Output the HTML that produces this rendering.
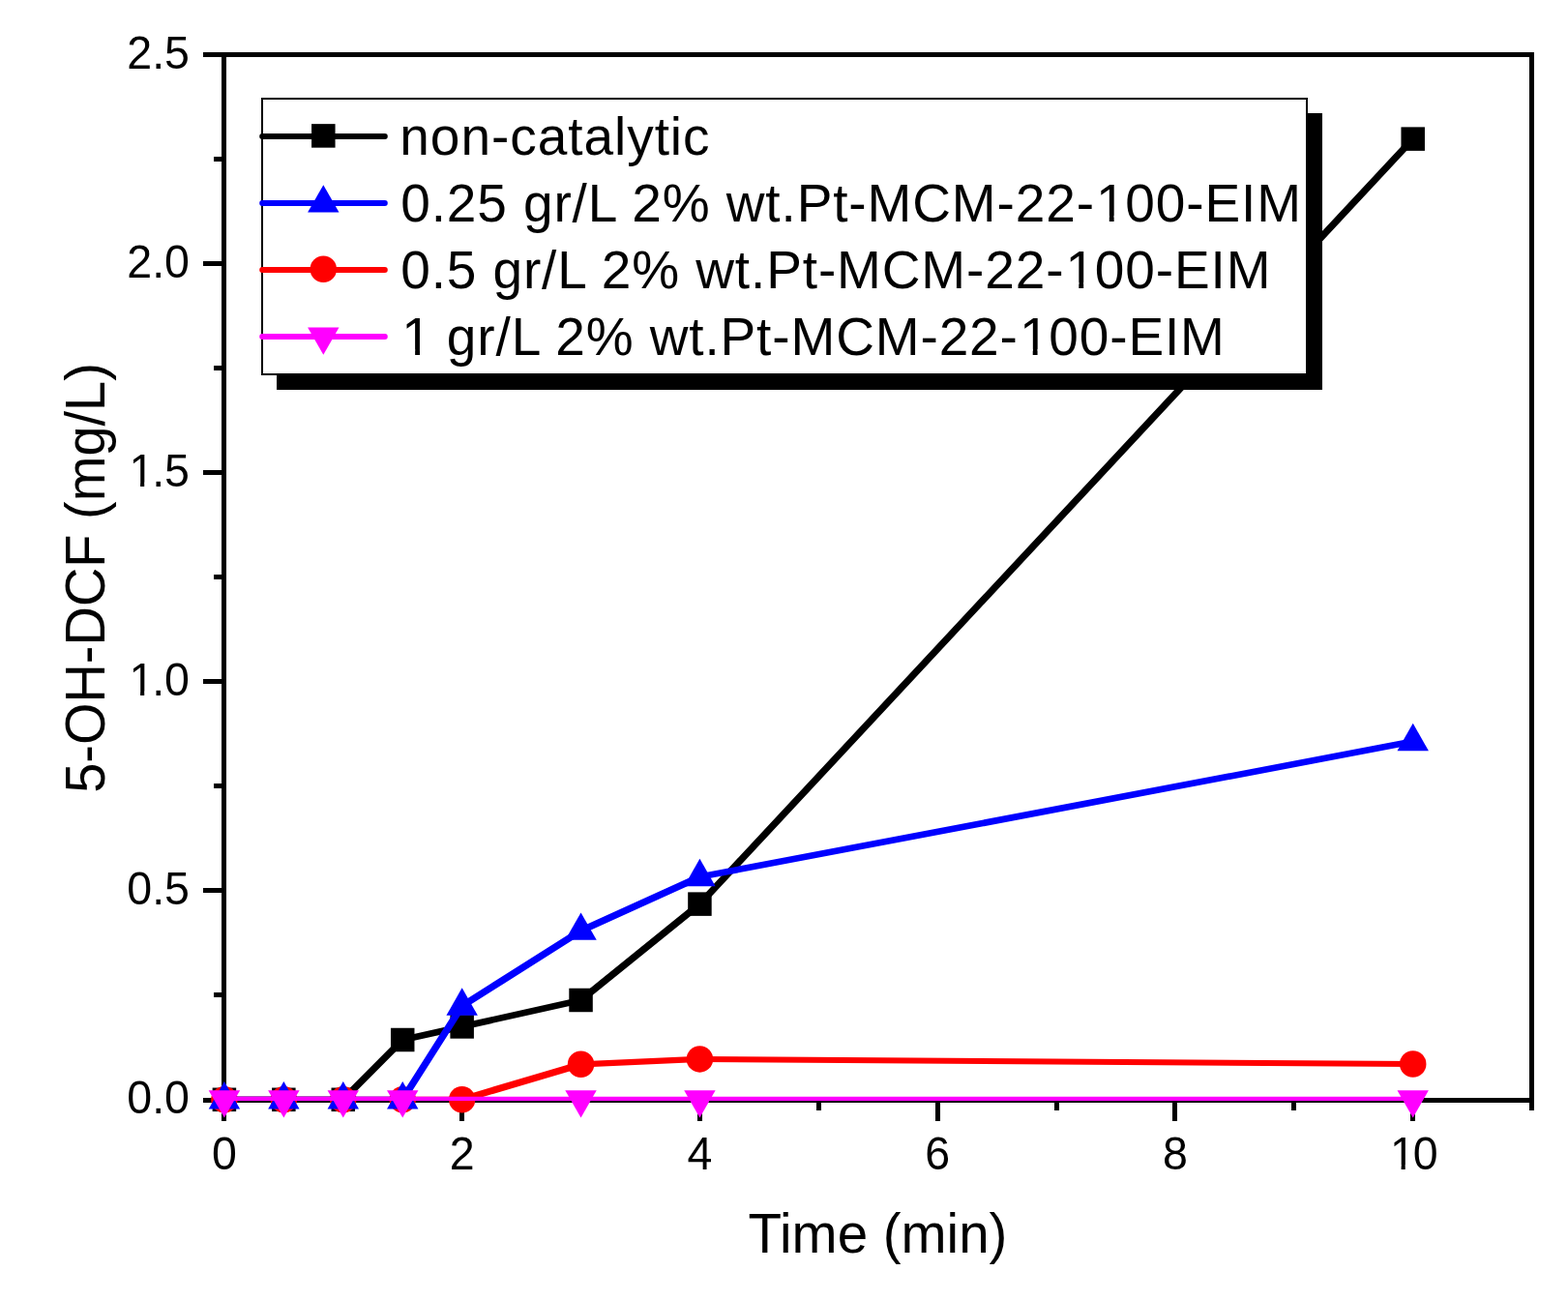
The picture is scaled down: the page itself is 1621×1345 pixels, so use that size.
<!DOCTYPE html><html><head><meta charset="utf-8"><title>5-OH-DCF vs Time</title><style>html,body{margin:0;padding:0;background:#fff;overflow:hidden;}svg{display:block;}text{font-family:"Liberation Sans", Arial, sans-serif;}</style></head><body>
<svg width="1621" height="1345" viewBox="0 0 1621 1345">
<rect x="0" y="0" width="1621" height="1345" fill="#fff"/>
<g fill="#000"><rect x="229" y="54" width="1357" height="5.0"/><rect x="229" y="1135.0" width="1357" height="5.0"/><rect x="229" y="54" width="5.0" height="1086"/><rect x="1581.0" y="54" width="5.0" height="1086"/><rect x="210" y="1135.0" width="19" height="5"/><rect x="221" y="1026" width="8" height="5"/><rect x="210" y="918" width="19" height="5"/><rect x="221" y="810" width="8" height="5"/><rect x="210" y="702" width="19" height="5"/><rect x="221" y="594" width="8" height="5"/><rect x="210" y="486" width="19" height="5"/><rect x="221" y="378" width="8" height="5"/><rect x="210" y="270" width="19" height="5"/><rect x="221" y="162" width="8" height="5"/><rect x="210" y="54" width="19" height="5"/><rect x="229" y="1140" width="5" height="19"/><rect x="352" y="1140" width="5" height="8"/><rect x="475" y="1140" width="5" height="19"/><rect x="598" y="1140" width="5" height="8"/><rect x="721" y="1140" width="5" height="19"/><rect x="844" y="1140" width="5" height="8"/><rect x="967" y="1140" width="5" height="19"/><rect x="1090" y="1140" width="5" height="8"/><rect x="1212" y="1140" width="5" height="19"/><rect x="1335" y="1140" width="5" height="8"/><rect x="1458" y="1140" width="5" height="19"/><rect x="1581" y="1140" width="5" height="8"/></g>
<g fill="#000"><g transform="translate(196.00,1151.30) scale(1.012,1.03)"><text x="-63.95" y="0" font-size="46">0.0</text></g><g transform="translate(196.00,935.30) scale(1.012,1.03)"><text x="-63.95" y="0" font-size="46">0.5</text></g><g transform="translate(196.00,719.30) scale(1.012,1.03)"><text x="-63.95" y="0" font-size="46"><tspan dx="2.07">1</tspan><tspan dx="-2.07">.</tspan>0</text><g fill="#fff"><rect x="-59.57" y="-4.44" width="9.26" height="5.44"/><rect x="-46.24" y="-4.44" width="8.90" height="5.44"/></g></g><g transform="translate(196.00,503.30) scale(1.012,1.03)"><text x="-63.95" y="0" font-size="46"><tspan dx="2.07">1</tspan><tspan dx="-2.07">.</tspan>5</text><g fill="#fff"><rect x="-59.57" y="-4.44" width="9.26" height="5.44"/><rect x="-46.24" y="-4.44" width="8.90" height="5.44"/></g></g><g transform="translate(196.00,287.30) scale(1.012,1.03)"><text x="-63.95" y="0" font-size="46">2.0</text></g><g transform="translate(196.00,71.30) scale(1.012,1.03)"><text x="-63.95" y="0" font-size="46">2.5</text></g><g transform="translate(231.90,1209.00) scale(1.012,1.03)"><text x="-12.79" y="0" font-size="46">0</text></g><g transform="translate(477.66,1209.00) scale(1.012,1.03)"><text x="-12.79" y="0" font-size="46">2</text></g><g transform="translate(723.42,1209.00) scale(1.012,1.03)"><text x="-12.79" y="0" font-size="46">4</text></g><g transform="translate(969.18,1209.00) scale(1.012,1.03)"><text x="-12.79" y="0" font-size="46">6</text></g><g transform="translate(1214.94,1209.00) scale(1.012,1.03)"><text x="-12.79" y="0" font-size="46">8</text></g><g transform="translate(1460.70,1209.00) scale(1.012,1.03)"><text x="-25.58" y="0" font-size="46"><tspan dx="2.07">1</tspan><tspan dx="-2.07">0</tspan></text><g fill="#fff"><rect x="-21.21" y="-4.44" width="9.26" height="5.44"/><rect x="-7.88" y="-4.44" width="8.90" height="5.44"/></g></g></g>
<text transform="translate(907.5,1295) scale(1,1.03)" x="0" y="0" text-anchor="middle" font-size="56.5" fill="#000">Time (min)</text>
<text transform="translate(108,597.5) rotate(-90) scale(1,1.035)" x="0" y="0" text-anchor="middle" font-size="56" fill="#000">5-OH-DCF (mg/L)</text>
<defs><clipPath id="pc"><rect x="231.5" y="56.5" width="1352" height="1081.5"/></clipPath></defs>
<g clip-path="url(#pc)" stroke="#000000" stroke-linecap="round"><line x1="231.90" y1="1136.80" x2="293.34" y2="1136.80" stroke-width="6.00"/><line x1="293.34" y1="1136.80" x2="354.78" y2="1136.80" stroke-width="6.00"/><line x1="354.78" y1="1136.80" x2="416.22" y2="1075.02" stroke-width="7.20"/><line x1="416.22" y1="1075.02" x2="477.66" y2="1061.42" stroke-width="6.78"/><line x1="477.66" y1="1061.42" x2="600.54" y2="1033.98" stroke-width="6.78"/><line x1="600.54" y1="1033.98" x2="723.42" y2="934.62" stroke-width="7.20"/><line x1="723.42" y1="934.62" x2="1460.70" y2="143.63" stroke-width="7.20"/></g>
<rect x="219.65" y="1124.55" width="24.50" height="24.50" fill="#000000"/><rect x="281.09" y="1124.55" width="24.50" height="24.50" fill="#000000"/><rect x="342.53" y="1124.55" width="24.50" height="24.50" fill="#000000"/><rect x="403.97" y="1062.77" width="24.50" height="24.50" fill="#000000"/><rect x="465.41" y="1049.17" width="24.50" height="24.50" fill="#000000"/><rect x="588.29" y="1021.73" width="24.50" height="24.50" fill="#000000"/><rect x="711.17" y="922.37" width="24.50" height="24.50" fill="#000000"/><rect x="1448.45" y="131.38" width="24.50" height="24.50" fill="#000000"/>
<g clip-path="url(#pc)" stroke="#ff0000" stroke-linecap="round"><line x1="231.90" y1="1136.80" x2="293.34" y2="1136.80" stroke-width="6.00"/><line x1="293.34" y1="1136.80" x2="354.78" y2="1136.80" stroke-width="6.00"/><line x1="354.78" y1="1136.80" x2="416.22" y2="1136.80" stroke-width="6.00"/><line x1="416.22" y1="1136.80" x2="477.66" y2="1136.80" stroke-width="6.00"/><line x1="477.66" y1="1136.80" x2="600.54" y2="1100.30" stroke-width="7.03"/><line x1="600.54" y1="1100.30" x2="723.42" y2="1094.90" stroke-width="6.16"/><line x1="723.42" y1="1094.90" x2="1460.70" y2="1100.08" stroke-width="6.03"/></g>
<circle cx="231.90" cy="1136.80" r="13.75" fill="#ff0000"/><circle cx="293.34" cy="1136.80" r="13.75" fill="#ff0000"/><circle cx="354.78" cy="1136.80" r="13.75" fill="#ff0000"/><circle cx="416.22" cy="1136.80" r="13.75" fill="#ff0000"/><circle cx="477.66" cy="1136.80" r="13.75" fill="#ff0000"/><circle cx="600.54" cy="1100.30" r="13.75" fill="#ff0000"/><circle cx="723.42" cy="1094.90" r="13.75" fill="#ff0000"/><circle cx="1460.70" cy="1100.08" r="13.75" fill="#ff0000"/>
<g clip-path="url(#pc)" stroke="#0000ff" stroke-linecap="round"><line x1="231.90" y1="1136.80" x2="293.34" y2="1136.80" stroke-width="6.00"/><line x1="293.34" y1="1136.80" x2="354.78" y2="1136.80" stroke-width="6.00"/><line x1="354.78" y1="1136.80" x2="416.22" y2="1136.80" stroke-width="6.00"/><line x1="416.22" y1="1136.80" x2="477.66" y2="1040.03" stroke-width="7.20"/><line x1="477.66" y1="1040.03" x2="600.54" y2="962.27" stroke-width="7.20"/><line x1="600.54" y1="962.27" x2="723.42" y2="906.54" stroke-width="7.20"/><line x1="723.42" y1="906.54" x2="1460.70" y2="766.58" stroke-width="6.67"/></g>
<polygon points="231.90,1118.00 248.10,1146.40 215.70,1146.40" fill="#0000ff"/><polygon points="293.34,1118.00 309.54,1146.40 277.14,1146.40" fill="#0000ff"/><polygon points="354.78,1118.00 370.98,1146.40 338.58,1146.40" fill="#0000ff"/><polygon points="416.22,1118.00 432.42,1146.40 400.02,1146.40" fill="#0000ff"/><polygon points="477.66,1021.23 493.86,1049.63 461.46,1049.63" fill="#0000ff"/><polygon points="600.54,943.47 616.74,971.87 584.34,971.87" fill="#0000ff"/><polygon points="723.42,887.74 739.62,916.14 707.22,916.14" fill="#0000ff"/><polygon points="1460.70,747.78 1476.90,776.18 1444.50,776.18" fill="#0000ff"/>
<g clip-path="url(#pc)" stroke="#ff00ff" stroke-linecap="round"><line x1="231.90" y1="1136.80" x2="293.34" y2="1136.80" stroke-width="6.00"/><line x1="293.34" y1="1136.80" x2="354.78" y2="1136.80" stroke-width="6.00"/><line x1="354.78" y1="1136.80" x2="416.22" y2="1136.80" stroke-width="6.00"/><line x1="416.22" y1="1136.80" x2="600.54" y2="1136.80" stroke-width="6.00"/><line x1="600.54" y1="1136.80" x2="723.42" y2="1136.80" stroke-width="6.00"/><line x1="723.42" y1="1136.80" x2="1460.70" y2="1136.80" stroke-width="6.00"/></g>
<polygon points="215.70,1127.20 248.10,1127.20 231.90,1155.60" fill="#ff00ff"/><polygon points="277.14,1127.20 309.54,1127.20 293.34,1155.60" fill="#ff00ff"/><polygon points="338.58,1127.20 370.98,1127.20 354.78,1155.60" fill="#ff00ff"/><polygon points="400.02,1127.20 432.42,1127.20 416.22,1155.60" fill="#ff00ff"/><polygon points="584.34,1127.20 616.74,1127.20 600.54,1155.60" fill="#ff00ff"/><polygon points="707.22,1127.20 739.62,1127.20 723.42,1155.60" fill="#ff00ff"/><polygon points="1444.50,1127.20 1476.90,1127.20 1460.70,1155.60" fill="#ff00ff"/>
<rect x="286" y="117" width="1081" height="286" fill="#000"/>
<rect x="271" y="102" width="1080" height="285" fill="#fff" stroke="#000" stroke-width="2"/>
<line x1="271.2" y1="141" x2="397.8" y2="141" stroke="#000000" stroke-width="6" stroke-linecap="round"/>
<rect x="322.05" y="128.15" width="24.50" height="24.50" fill="#000000"/>
<g transform="translate(0,159.80) scale(1,1.02) translate(0,-159.80)"><text x="413.3" y="159.80" font-size="55" letter-spacing="0.96" fill="#000">non-catalytic</text></g>
<line x1="271.2" y1="210" x2="397.8" y2="210" stroke="#0000ff" stroke-width="6" stroke-linecap="round"/>
<polygon points="334.30,191.20 350.50,219.60 318.10,219.60" fill="#0000ff"/>
<g transform="translate(0,228.75) scale(1,1.02) translate(0,-228.75)"><text x="414.2" y="228.75" font-size="55" letter-spacing="0.88" fill="#000">0.25 gr/L 2% wt.Pt-MCM-22-<tspan dx="1.10">1</tspan><tspan dx="-1.10">0</tspan>0-EIM</text></g>
<line x1="271.2" y1="279" x2="397.8" y2="279" stroke="#ff0000" stroke-width="6" stroke-linecap="round"/>
<circle cx="334.30" cy="278.30" r="13.75" fill="#ff0000"/>
<g transform="translate(0,297.70) scale(1,1.02) translate(0,-297.70)"><text x="414.2" y="297.70" font-size="55" letter-spacing="0.88" fill="#000">0.5 gr/L 2% wt.Pt-MCM-22-<tspan dx="1.10">1</tspan><tspan dx="-1.10">0</tspan>0-EIM</text></g>
<line x1="271.2" y1="348" x2="397.8" y2="348" stroke="#ff00ff" stroke-width="6" stroke-linecap="round"/>
<polygon points="318.10,338.40 350.50,338.40 334.30,366.80" fill="#ff00ff"/>
<g transform="translate(0,366.65) scale(1,1.02) translate(0,-366.65)"><text x="414.2" y="366.65" font-size="55" letter-spacing="0.88" fill="#000"><tspan dx="1.10">1</tspan><tspan dx="-1.10"> </tspan>gr/L 2% wt.Pt-MCM-22-<tspan dx="1.10">1</tspan><tspan dx="-1.10">0</tspan>0-EIM</text></g>
<g fill="#fff"><g transform="translate(0,228.75) scale(1,1.02) translate(0,-228.75)"><rect x="1135" y="223" width="11.78" height="7"/><rect x="1151.64" y="223" width="11.36" height="7"/></g><g transform="translate(0,297.70) scale(1,1.02) translate(0,-297.70)"><rect x="1104" y="292" width="11.31" height="7"/><rect x="1120.17" y="292" width="10.83" height="7"/></g><g transform="translate(0,366.65) scale(1,1.02) translate(0,-366.65)"><rect x="418" y="361" width="11.13" height="7"/><rect x="433.99" y="361" width="11.01" height="7"/></g><g transform="translate(0,366.65) scale(1,1.02) translate(0,-366.65)"><rect x="1056" y="361" width="11.71" height="7"/><rect x="1072.57" y="361" width="10.43" height="7"/></g></g>
</svg></body></html>
